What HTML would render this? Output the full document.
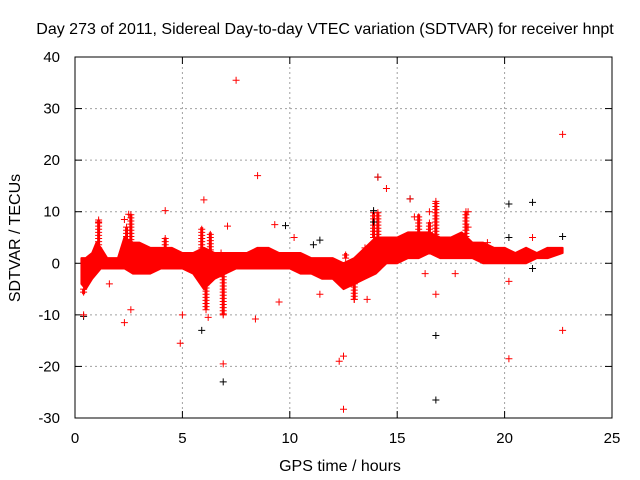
<!DOCTYPE html>
<html><head><meta charset="utf-8"><style>
body{margin:0;background:#fff;}
svg{display:block;font-family:"Liberation Sans",sans-serif;}
</style></head><body>
<svg id="chart" width="640" height="480">
<text x="325" y="34" font-size="16" text-anchor="middle">Day 273 of 2011, Sidereal Day-to-day VTEC variation (SDTVAR) for receiver hnpt</text>
<text x="340" y="471" font-size="16" text-anchor="middle">GPS time / hours</text>
<text transform="translate(20,238) rotate(-90)" font-size="16" text-anchor="middle">SDTVAR / TECUs</text>
<g id="grid"></g><g id="marks"></g>
<rect x="75" y="57" width="537" height="361" fill="none" stroke="#000" stroke-width="1"/>
</svg>
<script>
const xTicks=[0,5,10,15,20,25];
const yTicks=[-30,-20,-10,0,10,20,30,40];
const bandTime=[0.3,0.5,0.8,1.0,1.2,1.5,2.0,2.3,2.7,3,3.5,4,4.5,5,5.5,6,6.5,7,7.5,8,8.5,9,9.5,10,10.5,11,11.5,12,12.5,13,13.5,14,14.5,15,15.5,16,16.5,17,17.5,18,18.5,19,19.5,20,20.5,21,21.5,22,22.7];
const bandUpper=[1,1,2,4,3,1,1,5,4,4,3,3,3,2,2,3,2,2,2,2,3,3,2,2,2,1,1,1,0,1,3,5,5,5,6,6,6,5,5,6,4,4,3,3,2,3,2,3,3];
const bandLower=[-4,-5,-3,-2,-1,-1,-1,-1,-2,-2,-2,-1,-1,-1,-2,-5,-3,-2,-1,-1,-1,-1,-1,-1,-2,-2,-3,-3,-5,-4,-3,-2,0,0,1,1,2,1,1,1,1,0,0,0,0,0,1,1,2];
const spikeTime=[1.1,2.4,2.6,4.2,5.9,6.3,6.8,12.6,13.5,13.9,14.1,16.0,16.5,16.8,18.2,0.4,6.1,6.9,13.0];
const spikeValue=[8.5,7,9.5,5,7,6,2,2,2,10,10,9.5,8,12,10,-6,-9,-10,-7];
const redTime=[7.5,8.5,6,4.2,1.1,2.3,2.5,9.3,7.1,10.2,0.4,1.6,2.3,2.6,4.9,5.0,6.2,6.9,6.9,8.4,9.5,12.3,12.5,12.5,13,13.6,14.5,16.3,16.8,16.5,16.8,18.3,20.2,20.2,22.7,22.7,15.8,19.2,17.7,11.4,14.1,15.6,18.3,21.3];
const redValue=[35.5,17,12.3,10.2,8,8.5,9.5,7.5,7.2,5,-10,-4,-11.5,-9,-15.5,-10,-10.5,-19.5,-10,-10.8,-7.5,-19,-18,-28.3,-7,-7,14.5,-2,-6,10,12,10,-18.5,-3.5,25,-13,9,4,-2,-6,16.7,12.5,7,5];
const blackTime=[0.4,6.9,9.8,11.1,11.4,13.9,14.1,15.6,16.8,16.8,20.2,21.3,22.7,21.3,20.2,5.9,13.9];
const blackValue=[-10.3,-23,7.3,3.6,4.5,10.2,16.7,12.5,-14,-26.5,11.5,11.8,5.2,-1,5,-13,8];

const X=t=>75+t*537/25, Y=v=>57+(40-v)*361/70;
const NS='http://www.w3.org/2000/svg';
const svg=document.getElementById('chart'),grid=document.getElementById('grid'),marks=document.getElementById('marks');
function mk(tag,attrs,parent){const e=document.createElementNS(NS,tag);for(const k in attrs)e.setAttribute(k,attrs[k]);parent.appendChild(e);return e;}
xTicks.forEach(t=>{
 if(t>0&&t<25){const g=mk('line',{x1:X(t),x2:X(t),y1:57,y2:418,stroke:'#a0a0a0','stroke-dasharray':'2,3'},grid);
 
 }
 mk('line',{x1:X(t),x2:X(t),y1:418,y2:411,stroke:'#000'},grid);
 mk('line',{x1:X(t),x2:X(t),y1:57,y2:64,stroke:'#000'},grid);
 const l=mk('text',{x:X(t),y:443,'font-size':15,'text-anchor':'middle'},grid);l.textContent=t;
 
 
});
yTicks.forEach(v=>{
 if(v>-30&&v<40){const g=mk('line',{x1:75,x2:612,y1:Y(v),y2:Y(v),stroke:'#a0a0a0','stroke-dasharray':'2,3'},grid);
 
 }
 mk('line',{x1:75,x2:82,y1:Y(v),y2:Y(v),stroke:'#000'},grid);
 mk('line',{x1:612,x2:605,y1:Y(v),y2:Y(v),stroke:'#000'},grid);
 const l=mk('text',{x:60,y:Y(v)+5,'font-size':15,'text-anchor':'end'},grid);l.textContent=v;
 
 
});
let pts=bandTime.map((t,i)=>X(t)+','+Y(bandUpper[i]));
for(let i=bandTime.length-1;i>=0;i--)pts.push(X(bandTime[i])+','+Y(bandLower[i]));
const band=mk('polygon',{points:pts.join(' '),fill:'#ff0000',stroke:'#ff0000','stroke-width':2,'stroke-linejoin':'round'},marks);


function plus(t,v,c,name){const x=X(t),y=Y(v);
 const p=mk('path',{d:`M${x-3.5},${y}H${x+3.5}M${x},${y-3.5}V${y+3.5}`,stroke:c,'stroke-width':1},marks);
 
 }
spikeTime.forEach((t,i)=>{
 const j=bandTime.findIndex(b=>b>=t);const base=spikeValue[i]>0?bandUpper[Math.max(0,j)]:bandLower[Math.max(0,j)];
 const n=Math.abs(spikeValue[i]-base);const s=spikeValue[i]>base?1:-1;
 for(let k=0;k<=n;k+=0.6)plus(t,base+s*k,'#ff0000','spike-point');
 const r=mk('rect',{x:X(t)-1.5,width:3,y:Math.min(Y(base),Y(spikeValue[i])),height:Math.abs(Y(base)-Y(spikeValue[i])),fill:'#ff0000'},marks);
 
 
});
blackTime.forEach((t,i)=>plus(t,blackValue[i],'#000','black-point'));
redTime.forEach((t,i)=>plus(t,redValue[i],'#ff0000','outlier-point'));
</script>
</body></html>
